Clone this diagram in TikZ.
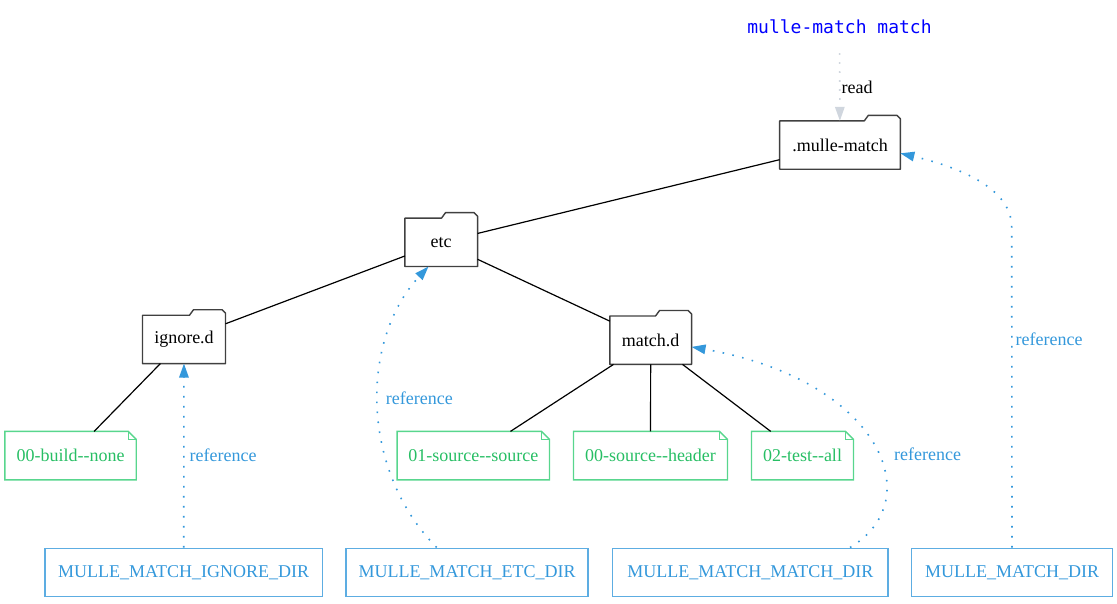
\documentclass[tikz,border=0pt]{standalone}
\usepackage{fontspec}
\setmainfont{Liberation Serif}[Ligatures=TeXOff]
\newfontfamily\cmdfont{DejaVu Sans Mono}
\usetikzlibrary{arrows.meta}
\definecolor{refblue}{RGB}{52,152,219}
\definecolor{boxblue}{RGB}{93,173,226}
\definecolor{notegreen}{RGB}{39,190,100}
\definecolor{notegreenlight}{RGB}{88,214,141}
\definecolor{foldergray}{RGB}{64,64,64}
\definecolor{readgray}{RGB}{208,214,222}

\begin{document}
\begin{tikzpicture}[x=1pt, y=-1pt, >={Triangle[length=14pt, width=9.5pt]},
  every node/.style={font=\fontsize{18}{22}\selectfont, inner sep=0pt},
  folder/.style={minimum height=48pt},
  folderline/.style={foldergray, line width=1.4pt, line join=round},
  note/.style={minimum height=48pt, text=notegreen},
  noteline/.style={notegreenlight, line width=1.4pt},
  dirbox/.style={draw=boxblue, line width=1.4pt, minimum height=48pt, text=refblue},
  treeedge/.style={black, line width=1.2pt},
  refedge/.style={refblue, line width=1.6pt, dash pattern=on 1.6pt off 8.4pt},
  readedge/.style={readgray, line width=1.6pt, dash pattern=on 1.6pt off 7.4pt},
  lbl/.style={text=refblue, right, inner sep=3pt}]
\useasboundingbox (0,0) rectangle (1117,603);

\node [minimum height=52pt, text=blue, font=\fontsize{18}{22}\cmdfont] (cmd) at (839.5,27) {mulle-match match};

% folders
\foreach \n/\t/\x/\y/\w in {mm/.mulle-match/840/145/120.3, etc/etc/441.2/242.3/72.3,
    ignore/ignore.d/184/339.4/82.6, match/match.d/650.7/340.2/81.3}
  \node [folder, minimum width=\w] (\n) at (\x,\y) {\t};

\foreach \n in {mm, etc, ignore, match}
  \draw [folderline] (\n.south west) -- (\n.north west) -- ([xshift=-36pt]\n.north east)
    -- ([xshift=-32pt, yshift=5.5pt]\n.north east) -- ([xshift=-3.5pt, yshift=5.5pt]\n.north east)
    -- ([yshift=2pt]\n.north east) -- (\n.south east) -- cycle;

% notes
\foreach \n/\t/\x/\w in {build/00-build--none/70.5/131, srcsrc/01-source--source/473.3/152,
    srchdr/00-source--header/650.5/153.6, test/02-test--all/802.5/101.6}
  \node [note, minimum width=\w] (\n) at (\x,455.6) {\t};

\foreach \n in {build, srcsrc, srchdr, test} {
  \draw [noteline] (\n.south west) -- (\n.north west) -- ([xshift=-8pt]\n.north east)
    -- ([yshift=-8pt]\n.north east) -- (\n.south east) -- cycle;
  \draw [noteline] ([xshift=-8pt]\n.north east) -- ([xshift=-8pt, yshift=-8pt]\n.north east)
    -- ([yshift=-8pt]\n.north east);
}

% directory variables
\foreach \n/\t/\x/\w in {ignoredir/MULLE\_MATCH\_IGNORE\_DIR/183.7/277.5,
    etcdir/MULLE\_MATCH\_ETC\_DIR/467/242, matchdir/MULLE\_MATCH\_MATCH\_DIR/750.3/275.3,
    mmdir/MULLE\_MATCH\_DIR/1012/200.6}
  \node [dirbox, minimum width=\w] (\n) at (\x,572.2) {\t};

\draw [treeedge] (mm) -- (etc);
\foreach \j in {ignore, match}
  \draw [treeedge] (etc) -- (\j);
\draw [treeedge] (ignore) -- (build);
\foreach \j in {srcsrc, srchdr, test}
  \draw [treeedge] (match) -- (\j);

\draw [readedge, ->] (cmd) -- (mm)
  node [right, midway, inner sep=1pt, text=black] {read};

\draw [refedge, ->] (ignoredir) -- (ignore)
  node [lbl, midway, xshift=2pt] {reference};
\draw [refedge, ->] ([xshift=-30.3pt]etcdir.north) .. controls (360,470) and (360,340) .. ([xshift=-12.7pt]etc.south)
  node [lbl, pos=0.525, xshift=4pt] {reference};
\draw [refedge, ->] ([xshift=99.7pt]matchdir.north) .. controls (930,500) and (880,380) .. ([yshift=-6.7pt]match.east)
  node [lbl, pos=0.45, xshift=12pt] {reference};
\coordinate (mmbend) at (1011.7,227);
\draw [refedge, ->] (mmdir.north) -- (mmbend) node [lbl, pos=0.65] {reference}
  .. controls (1011.7,185) and (950,165) .. ([yshift=-8.3pt]mm.east);
\end{tikzpicture}
\end{document}
